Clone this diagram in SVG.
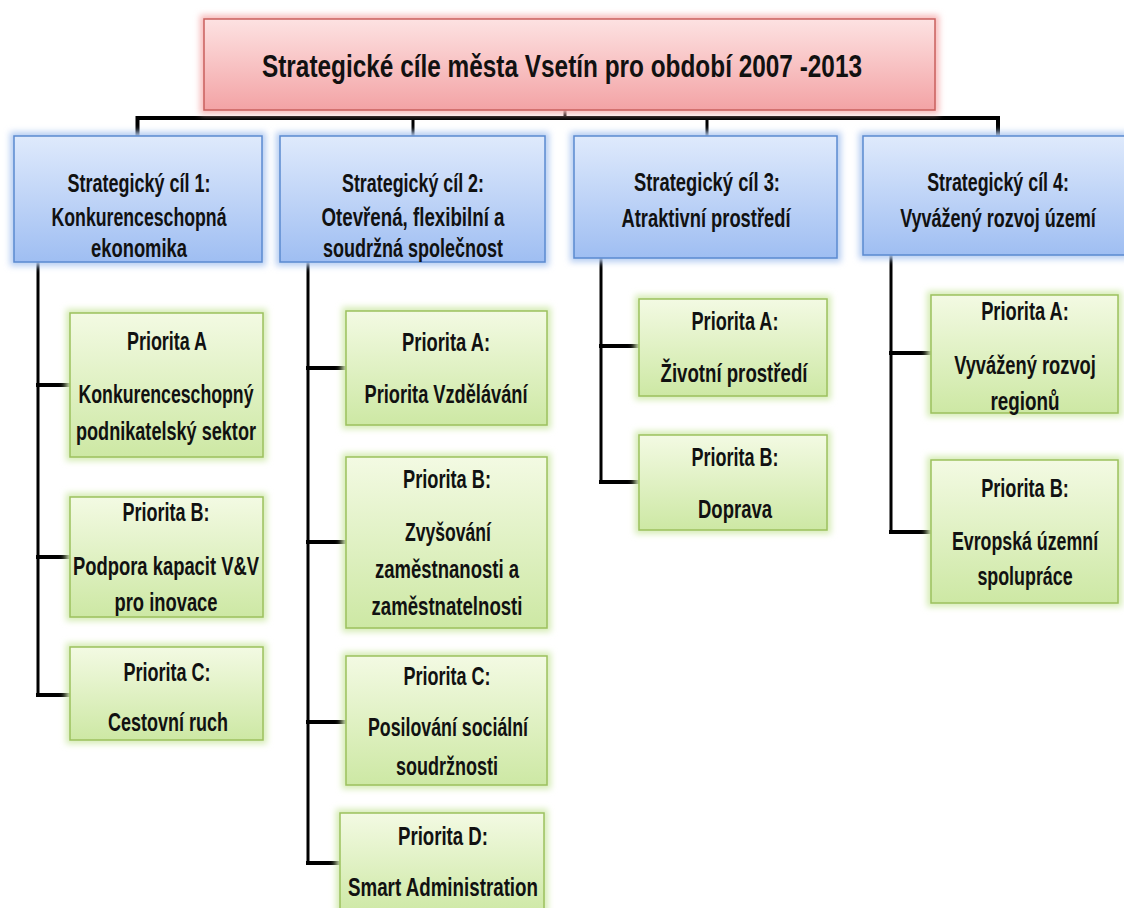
<svg xmlns="http://www.w3.org/2000/svg" width="1124" height="908" viewBox="0 0 1124 908">
<defs>
<linearGradient id="gRed" x1="0" y1="0" x2="0" y2="1"><stop offset="0" stop-color="#fde2e2"/><stop offset="1" stop-color="#f3a3a5"/></linearGradient>
<linearGradient id="gBlue" x1="0" y1="0" x2="0" y2="1"><stop offset="0" stop-color="#dfeafc"/><stop offset="1" stop-color="#9fbef2"/></linearGradient>
<linearGradient id="gGreen" x1="0" y1="0" x2="0" y2="1"><stop offset="0" stop-color="#f3fae3"/><stop offset="1" stop-color="#cde8a4"/></linearGradient>
<filter id="glow" x="-10%" y="-20%" width="120%" height="140%"><feGaussianBlur stdDeviation="3"/></filter>
<style>
.t{font-family:"Liberation Sans",Arial,sans-serif;font-weight:bold;fill:#111;text-anchor:middle}
.tt{font-size:31px}
.tb{font-size:25px}
.tg{font-size:25px}
.red{fill:url(#gRed);stroke:#c9605e;stroke-width:1.5}
.blue{fill:url(#gBlue);stroke:#5b8ad0;stroke-width:1.5}
.green{fill:url(#gGreen);stroke:#9cc15e;stroke-width:1.5}
.gr{fill:#f7b9b9;filter:url(#glow)}
.gb{fill:#b5cdf2;filter:url(#glow)}
.gg{fill:#d6ecb5;filter:url(#glow)}
.c{stroke:#000;stroke-width:4;fill:none;stroke-linecap:square}
.c3{stroke:#000;stroke-width:3;fill:none}
</style>
</defs>
<rect width="1124" height="908" fill="#fff"/>

<g id="connectors">
<path class="c3" d="M565 110V118"/>
<path class="c" d="M137.5 136V118H998V136"/>
<path class="c3" d="M413 118V136M707 118V136"/>
<path class="c3" d="M38 262V695"/>
<path class="c" d="M38 385H70M38 557H70M38 695H70"/>
<path class="c3" d="M308 262V863"/>
<path class="c" d="M308 368H346M308 542H346M308 722H346M308 863H340"/>
<path class="c3" d="M601 258V482"/>
<path class="c" d="M601 346H639M601 482H639"/>
<path class="c3" d="M891 255V532"/>
<path class="c" d="M891 353H931M891 532H931"/>
</g>

<g id="title">
<rect class="gr" x="200" y="15" width="739" height="99"/>
<rect class="red" x="204" y="19" width="731" height="91"/>
<text class="t tt" x="562" y="77" textLength="600" lengthAdjust="spacingAndGlyphs">Strategické cíle města Vsetín pro období 2007 -2013</text>
</g>

<g id="goal1">
<rect class="gb" x="10" y="132" width="256" height="134"/>
<rect class="blue" x="14" y="136" width="248" height="126"/>
<text class="t tb" x="139" y="192" textLength="143" lengthAdjust="spacingAndGlyphs">Strategický cíl 1:</text>
<text class="t tb" x="139" y="226" textLength="175" lengthAdjust="spacingAndGlyphs">Konkurenceschopná</text>
<text class="t tb" x="139" y="257" textLength="96" lengthAdjust="spacingAndGlyphs">ekonomika</text>
</g>
<g id="goal2">
<rect class="gb" x="276" y="132" width="273" height="134"/>
<rect class="blue" x="280" y="136" width="265" height="126"/>
<text class="t tb" x="413" y="192" textLength="142" lengthAdjust="spacingAndGlyphs">Strategický cíl 2:</text>
<text class="t tb" x="413" y="226" textLength="183" lengthAdjust="spacingAndGlyphs">Otevřená, flexibilní a</text>
<text class="t tb" x="413" y="257" textLength="180" lengthAdjust="spacingAndGlyphs">soudržná společnost</text>
</g>
<g id="goal3">
<rect class="gb" x="570" y="132" width="271" height="130"/>
<rect class="blue" x="574" y="136" width="263" height="122"/>
<text class="t tb" x="707" y="191" textLength="146" lengthAdjust="spacingAndGlyphs">Strategický cíl 3:</text>
<text class="t tb" x="706" y="227" textLength="169" lengthAdjust="spacingAndGlyphs">Atraktivní prostředí</text>
</g>
<g id="goal4">
<rect class="gb" x="859" y="132" width="270" height="127"/>
<rect class="blue" x="863" y="136" width="264" height="119"/>
<g transform="translate(998,0) scale(0.75,1)">
<text class="t tb" x="0" y="191" textLength="189" lengthAdjust="spacingAndGlyphs">Strategický cíl 4:</text>
<text class="t tb" x="0" y="227" textLength="261" lengthAdjust="spacingAndGlyphs">Vyvážený rozvoj území</text>
</g>
</g>

<g id="p1a">
<rect class="gg" x="66" y="309" width="201" height="152"/>
<rect class="green" x="70" y="313" width="193" height="144"/>
<text class="t tg" x="167" y="350" textLength="80" lengthAdjust="spacingAndGlyphs">Priorita A</text>
<text class="t tg" x="166" y="403" textLength="175" lengthAdjust="spacingAndGlyphs">Konkurenceschopný</text>
<text class="t tg" x="166" y="440" textLength="180" lengthAdjust="spacingAndGlyphs">podnikatelský sektor</text>
</g>
<g id="p1b">
<rect class="gg" x="66" y="493" width="201" height="128"/>
<rect class="green" x="70" y="497" width="193" height="120"/>
<text class="t tg" x="166" y="521" textLength="87" lengthAdjust="spacingAndGlyphs">Priorita B:</text>
<text class="t tg" x="166" y="575" textLength="186" lengthAdjust="spacingAndGlyphs">Podpora kapacit V&amp;V</text>
<text class="t tg" x="166" y="611" textLength="103" lengthAdjust="spacingAndGlyphs">pro inovace</text>
</g>
<g id="p1c">
<rect class="gg" x="66" y="643" width="201" height="101"/>
<rect class="green" x="70" y="647" width="193" height="93"/>
<text class="t tg" x="167" y="681" textLength="87" lengthAdjust="spacingAndGlyphs">Priorita C:</text>
<text class="t tg" x="168" y="731" textLength="120" lengthAdjust="spacingAndGlyphs">Cestovní ruch</text>
</g>

<g id="p2a">
<rect class="gg" x="342" y="307" width="209" height="122"/>
<rect class="green" x="346" y="311" width="201" height="114"/>
<text class="t tg" x="446" y="351" textLength="88" lengthAdjust="spacingAndGlyphs">Priorita A:</text>
<text class="t tg" x="446" y="403" textLength="163" lengthAdjust="spacingAndGlyphs">Priorita Vzdělávání</text>
</g>
<g id="p2b">
<rect class="gg" x="342" y="453" width="209" height="179"/>
<rect class="green" x="346" y="457" width="201" height="171"/>
<text class="t tg" x="447" y="488" textLength="88" lengthAdjust="spacingAndGlyphs">Priorita B:</text>
<text class="t tg" x="448" y="541" textLength="86" lengthAdjust="spacingAndGlyphs">Zvyšování</text>
<text class="t tg" x="447" y="578" textLength="144" lengthAdjust="spacingAndGlyphs">zaměstnanosti a</text>
<text class="t tg" x="447" y="615" textLength="151" lengthAdjust="spacingAndGlyphs">zaměstnatelnosti</text>
</g>
<g id="p2c">
<rect class="gg" x="342" y="652" width="209" height="137"/>
<rect class="green" x="346" y="656" width="201" height="129"/>
<text class="t tg" x="447" y="685" textLength="87" lengthAdjust="spacingAndGlyphs">Priorita C:</text>
<text class="t tg" x="448" y="736" textLength="160" lengthAdjust="spacingAndGlyphs">Posilování sociální</text>
<text class="t tg" x="447" y="775" textLength="102" lengthAdjust="spacingAndGlyphs">soudržnosti</text>
</g>
<g id="p2d">
<rect class="gg" x="336" y="809" width="212" height="110"/>
<rect class="green" x="340" y="813" width="204" height="102"/>
<text class="t tg" x="443" y="845" textLength="90" lengthAdjust="spacingAndGlyphs">Priorita D:</text>
<text class="t tg" x="443" y="896" textLength="190" lengthAdjust="spacingAndGlyphs">Smart Administration</text>
</g>

<g id="p3a">
<rect class="gg" x="635" y="295" width="196" height="105"/>
<rect class="green" x="639" y="299" width="188" height="97"/>
<text class="t tg" x="735" y="330" textLength="87" lengthAdjust="spacingAndGlyphs">Priorita A:</text>
<text class="t tg" x="734" y="382" textLength="147" lengthAdjust="spacingAndGlyphs">Životní prostředí</text>
</g>
<g id="p3b">
<rect class="gg" x="635" y="431" width="196" height="103"/>
<rect class="green" x="639" y="435" width="188" height="95"/>
<text class="t tg" x="735" y="466" textLength="87" lengthAdjust="spacingAndGlyphs">Priorita B:</text>
<text class="t tg" x="735" y="518" textLength="74" lengthAdjust="spacingAndGlyphs">Doprava</text>
</g>

<g id="p4a">
<rect class="gg" x="927" y="291" width="195" height="126"/>
<rect class="green" x="931" y="295" width="187" height="118"/>
<g transform="translate(1025,0) scale(0.75,1)">
<text class="t tg" x="0" y="320" textLength="117" lengthAdjust="spacingAndGlyphs">Priorita A:</text>
<text class="t tg" x="0" y="374" textLength="189" lengthAdjust="spacingAndGlyphs">Vyvážený rozvoj</text>
<text class="t tg" x="0" y="410" textLength="92" lengthAdjust="spacingAndGlyphs">regionů</text>
</g>
</g>
<g id="p4b">
<rect class="gg" x="927" y="456" width="195" height="151"/>
<rect class="green" x="931" y="460" width="187" height="143"/>
<g transform="translate(1025,0) scale(0.75,1)">
<text class="t tg" x="0" y="497" textLength="117" lengthAdjust="spacingAndGlyphs">Priorita B:</text>
<text class="t tg" x="0" y="550" textLength="195" lengthAdjust="spacingAndGlyphs">Evropská územní</text>
<text class="t tg" x="0" y="585" textLength="127" lengthAdjust="spacingAndGlyphs">spolupráce</text>
</g>
</g>
</svg>
